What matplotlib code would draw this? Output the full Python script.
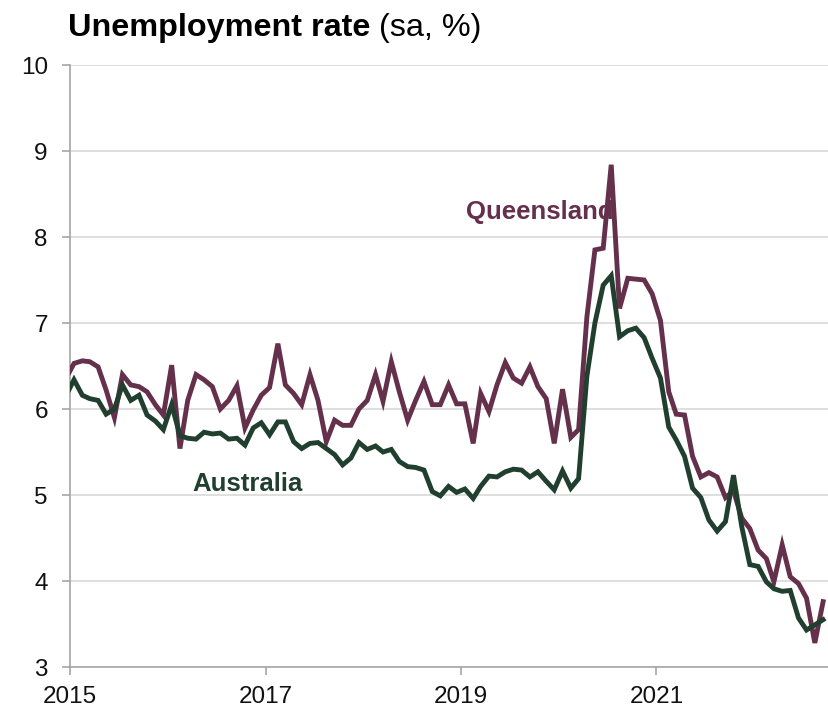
import matplotlib
matplotlib.use("Agg")
import matplotlib.pyplot as plt
import pandas as pd

plt.rcParams["font.family"] = ["Liberation Sans", "DejaVu Sans"]

# monthly, seasonally adjusted, Dec 2014 - Sep 2022
months = pd.date_range("2014-12-01", "2022-09-01", freq="MS")

queensland = [
    6.35,
    6.53, 6.56, 6.55, 6.49, 6.22, 5.90, 6.40, 6.28, 6.26, 6.20, 6.05, 5.93,
    6.51, 5.54, 6.10, 6.40, 6.34, 6.26, 6.00, 6.10, 6.27, 5.78, 5.99, 6.16,
    6.25, 6.76, 6.28, 6.18, 6.05, 6.40, 6.10, 5.62, 5.87, 5.81, 5.81, 6.00,
    6.10, 6.40, 6.09, 6.55, 6.20, 5.87, 6.10, 6.32, 6.05, 6.05, 6.28, 6.06,
    6.06, 5.60, 6.18, 5.97, 6.28, 6.54, 6.36, 6.30, 6.49, 6.26, 6.12, 5.60,
    6.23, 5.67, 5.76, 7.07, 7.85, 7.87, 8.84, 7.17, 7.52, 7.51, 7.50, 7.34,
    7.03, 6.20, 5.94, 5.93, 5.45, 5.21, 5.26, 5.21, 4.97, 5.05, 4.73, 4.61,
    4.36, 4.26, 3.99, 4.42, 4.05, 3.97, 3.80, 3.28, 3.76,
]

australia = [
    6.15,
    6.34, 6.16, 6.12, 6.10, 5.94, 6.00, 6.28, 6.10, 6.16, 5.93, 5.86, 5.76,
    6.05, 5.69, 5.66, 5.65, 5.73, 5.71, 5.72, 5.65, 5.66, 5.58, 5.78, 5.84,
    5.70, 5.85, 5.85, 5.62, 5.54, 5.60, 5.61, 5.54, 5.47, 5.35, 5.43, 5.61,
    5.53, 5.57, 5.50, 5.53, 5.39, 5.33, 5.32, 5.29, 5.04, 4.99, 5.10, 5.03,
    5.07, 4.96, 5.10, 5.22, 5.21, 5.27, 5.30, 5.29, 5.21, 5.27, 5.16, 5.06,
    5.28, 5.08, 5.19, 6.38, 7.00, 7.44, 7.55, 6.84, 6.91, 6.94, 6.83, 6.59,
    6.36, 5.79, 5.64, 5.45, 5.08, 4.97, 4.71, 4.58, 4.69, 5.23, 4.63, 4.19,
    4.17, 3.99, 3.91, 3.88, 3.89, 3.57, 3.43, 3.49, 3.55,
]

year_ticks = ["2015", "2017", "2019", "2021"]
y_ticks = [3, 4, 5, 6, 7, 8, 9, 10]

QLD_COLOR = "#64304B"
AUS_COLOR = "#213F2E"
GRID_COLOR = "#D9D9D9"
AXIS_COLOR = "#A6A6A6"

# points sit in the middle of each month
x = months + pd.Timedelta(days=15)

fig = plt.figure(figsize=(8.29, 7.09), dpi=100)
ax = fig.add_axes([70 / 829, 42 / 709, 759 / 829, 602 / 709])

ax.plot(x, queensland, color=QLD_COLOR, lw=3.5, solid_joinstyle="miter", zorder=3)
ax.plot(x, australia, color=AUS_COLOR, lw=3.5, solid_joinstyle="miter", zorder=4)

ax.set_xlim(pd.Timestamp("2015-01-01"), pd.Timestamp("2022-10-08"))
ax.set_ylim(3, 10)

ax.set_yticks(y_ticks)
ax.set_yticklabels([str(v) for v in y_ticks])
ax.set_xticks([pd.Timestamp(f"{y}-01-01") for y in year_ticks])
ax.set_xticklabels(year_ticks)

ax.grid(axis="y", color=GRID_COLOR, lw=1.2, zorder=0)
ax.set_axisbelow(True)

for side in ["top", "right"]:
    ax.spines[side].set_visible(False)
for side in ["left", "bottom"]:
    ax.spines[side].set_color(AXIS_COLOR)
    ax.spines[side].set_linewidth(1.2)

ax.tick_params(axis="y", direction="out", length=6, width=1.2, color=AXIS_COLOR,
               labelsize=17.5, pad=10, labelcolor="#111111")
ax.tick_params(axis="x", direction="out", length=6, width=1.2, color=AXIS_COLOR,
               labelsize=17.5, pad=8, labelcolor="#111111")

ax.text(pd.Timestamp("2019-01-22"), 8.21, "Queensland", color=QLD_COLOR,
        fontsize=18.5, fontweight="bold", va="baseline", zorder=2)
ax.text(pd.Timestamp("2016-04-03"), 5.05, "Australia", color=AUS_COLOR,
        fontsize=18.5, fontweight="bold", va="baseline", zorder=2)

title = fig.text(68 / 829, 1 - 36 / 709, "Unemployment rate", fontsize=23.3,
                 fontweight="bold", va="baseline", ha="left", color="#000000")
renderer = fig.canvas.get_renderer()
bb = title.get_window_extent(renderer=renderer)
fig.text(bb.x1 / fig.bbox.width, 1 - 36 / 709, " (sa, %)", fontsize=23.3,
         va="baseline", ha="left", color="#000000")

fig.savefig("out.png", dpi=100)
